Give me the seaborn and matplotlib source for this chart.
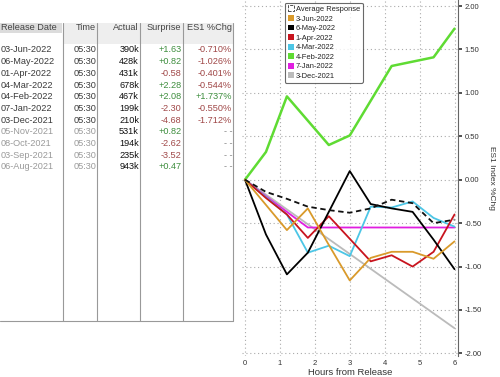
import matplotlib
matplotlib.use("Agg")
import matplotlib.pyplot as plt
from matplotlib.lines import Line2D
from matplotlib.patches import Patch, Rectangle
import pandas as pd
import seaborn as sns

# response of ES1 after release
HOURS = [0, 0.6, 1.2, 1.8, 2.4, 3.0, 3.6, 4.2, 4.8, 5.4, 6.0]
AVG = [0, -0.14, -0.22, -0.31, -0.35, -0.38, -0.33, -0.23, -0.27, -0.50, -0.46]
JUN22 = [0, -0.29, -0.58, -0.33, -0.75, -1.16, -0.90, -0.83, -0.83, -0.91, -0.71]
MAY22 = [0, -0.63, -1.09, -0.84, -0.37, 0.10, -0.28, -0.33, -0.37, -0.69, -1.03]
APR22 = [0, -0.21, -0.40, -0.67, -0.42, -0.68, -0.94, -0.87, -1.00, -0.83, -0.40]
MAR22 = [0, -0.20, -0.40, -0.84, -0.76, -0.88, -0.31, -0.32, -0.25, -0.44, -0.54]
FEB22 = [0, 0.32, 0.96, 0.68, 0.40, 0.51, 0.91, 1.31, 1.36, 1.41, 1.74]
JAN22 = [0, -0.19, -0.37, -0.55, -0.55, -0.55, -0.55, -0.55, -0.55, -0.55, -0.55]
DEC21_HOURS = [0, 6.0]
DEC21 = [0, -1.71]

SERIES = ["Average Response", "3-Jun-2022", "6-May-2022", "1-Apr-2022",
          "4-Mar-2022", "4-Feb-2022", "7-Jan-2022", "3-Dec-2021"]
COLORS = ["#111111", "#D99A2B", "#000000", "#C8141E",
          "#4CC6E6", "#5FDB33", "#E01EE0", "#BBBBBB"]

# table on the left
DATES = ["03-Jun-2022", "06-May-2022", "01-Apr-2022", "04-Mar-2022", "04-Feb-2022",
         "07-Jan-2022", "03-Dec-2021", "05-Nov-2021", "08-Oct-2021", "03-Sep-2021",
         "06-Aug-2021"]
ACTUAL = ["390k", "428k", "431k", "678k", "467k", "199k", "210k", "531k", "194k",
          "235k", "943k"]
SURPRISE = [1.63, 0.82, -0.58, 2.28, 2.08, -2.30, -4.68, 0.82, -2.62, -3.52, 0.47]
ES1_CHG = [-0.710, -1.026, -0.401, -0.544, 1.737, -0.550, -1.712, None, None, None, None]

sns.set_theme(style="white")
plt.rcParams["font.family"] = ["Liberation Sans", "DejaVu Sans"]

rows = []
for name, vals in zip(SERIES[:7], [AVG, JUN22, MAY22, APR22, MAR22, FEB22, JAN22]):
    for h, v in zip(HOURS, vals):
        rows.append({"hours": h, "chg": v, "release": name})
for h, v in zip(DEC21_HOURS, DEC21):
    rows.append({"hours": h, "chg": v, "release": SERIES[7]})
df = pd.DataFrame(rows)

W, H = 500, 377
fig = plt.figure(figsize=(W / 100, H / 100), dpi=100)


def fx(x):
    return x / W


def fy(y):
    return 1 - y / H


ax = fig.add_axes([fx(242), fy(356), fx(458) - fx(242), fy(0) - fy(356)])

palette = dict(zip(SERIES, COLORS))
dashes = {s: "" for s in SERIES}
dashes["Average Response"] = (3, 2)
sns.lineplot(
    data=df, x="hours", y="chg", hue="release", style="release",
    hue_order=SERIES[::-1], style_order=SERIES[::-1],
    palette=palette, dashes=dashes, estimator=None, sort=False,
    legend=False, linewidth=1.3, ax=ax,
)
green_line = ax.lines[SERIES[::-1].index("4-Feb-2022")]
green_line.set_linewidth(1.8)

ax.set_xlim(-0.086, 6.1)
ax.set_ylim(-2.03, 2.07)
ax.set_xticks(range(0, 7))
yt = [2, 1.5, 1, 0.5, 0, -0.5, -1, -1.5, -2]
ax.set_yticks(yt)
ax.set_yticklabels([f"{v:.2f}" for v in yt])
ax.yaxis.tick_right()
ax.yaxis.set_label_position("right")
ax.tick_params(axis="y", labelsize=5.5, length=3, width=1.2, color="#333333",
               pad=2, labelcolor="#333333", right=True)
ax.tick_params(axis="x", labelsize=5.5, length=0, pad=3, labelcolor="#333333")
ax.grid(True, color="#AAAAAA", linestyle=(0, (1, 2.5)), linewidth=0.8)
for side in ["top", "left", "bottom"]:
    ax.spines[side].set_visible(False)
ax.spines["right"].set_color("#666666")
ax.spines["right"].set_linewidth(0.8)
ax.set_xlabel("Hours from Release", fontsize=6.8, color="#333333", labelpad=0.5)
ax.set_ylabel("ES1 Index %Chg", fontsize=6, color="#333333", rotation=270, labelpad=9)

handles = [Patch(facecolor="white", edgecolor="#333333", linestyle="--", linewidth=0.6)]
handles += [Patch(facecolor=c, edgecolor="none") for c in COLORS[1:]]
leg = ax.legend(
    handles, SERIES, loc="upper left", bbox_to_anchor=(0.199, 0.992),
    borderaxespad=0, fontsize=5.4, handlelength=0.8, handleheight=0.8,
    handletextpad=0.3, labelspacing=0.28, borderpad=0.35, frameon=True,
    fancybox=True,
)
leg.get_frame().set_edgecolor("#444444")
leg.get_frame().set_linewidth(0.8)
for t in leg.get_texts():
    t.set_color("#222222")

# ---- table ----
fig.patches.append(Rectangle((fx(0), fy(33.3)), fx(62), fy(22.7) - fy(33.3),
                             transform=fig.transFigure, facecolor="#DCDCDC",
                             edgecolor="none"))
fig.patches.append(Rectangle((fx(64), fy(43.5)), fx(233) - fx(64), fy(22.7) - fy(43.5),
                             transform=fig.transFigure, facecolor="#EEEEEE",
                             edgecolor="none"))
for x in [63.3, 97.3, 140, 182.7, 232.7]:
    fig.lines.append(Line2D([fx(x), fx(x)], [fy(22.7), fy(321)],
                            transform=fig.transFigure, color="#999999", lw=0.8))
fig.lines.append(Line2D([fx(0), fx(232.7)], [fy(321), fy(321)],
                        transform=fig.transFigure, color="#999999", lw=0.8))

FS = 6.6
hdr_y = fy(28)
fig.text(fx(1), hdr_y, "Release Date", ha="left", va="center", fontsize=FS, color="#444444")
for label, x in [("Time", 96), ("Actual", 139), ("Surprise", 181.5), ("ES1 %Chg", 232)]:
    fig.text(fx(x), hdr_y, label, ha="right", va="center", fontsize=FS, color="#444444")

GREEN = "#3E8E3E"
RED = "#A04848"
for i, (d, a, s, e) in enumerate(zip(DATES, ACTUAL, SURPRISE, ES1_CHG)):
    y = fy(50 + 11.67 * i)
    old = e is None
    dcol = "#9A9A9A" if old else "#3A3A3A"
    fig.text(fx(1), y, d, ha="left", va="center", fontsize=FS, color=dcol)
    fig.text(fx(96), y, "05:30", ha="right", va="center", fontsize=FS, color=dcol)
    fig.text(fx(139), y, a, ha="right", va="center", fontsize=FS, color="#111111")
    fig.text(fx(181.5), y, f"{s:+.2f}", ha="right", va="center", fontsize=FS,
             color=GREEN if s > 0 else RED)
    if old:
        fig.text(fx(232), y, "- -", ha="right", va="center", fontsize=FS, color="#888888")
    else:
        fig.text(fx(232), y, f"{e:+.3f}%", ha="right", va="center", fontsize=FS,
                 color=GREEN if e > 0 else RED)

fig.savefig("out.png", dpi=100)
